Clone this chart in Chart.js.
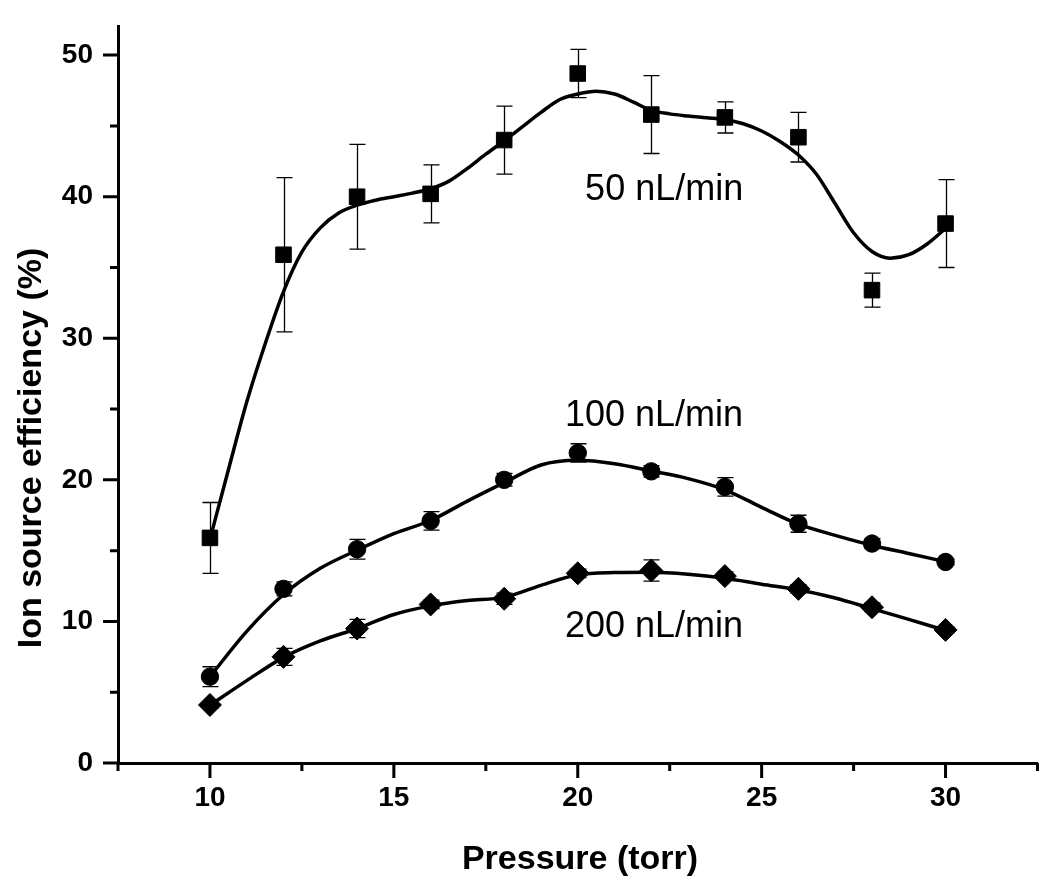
<!DOCTYPE html>
<html>
<head>
<meta charset="utf-8">
<title>Ion source efficiency vs pressure</title>
<script src="https://cdn.jsdelivr.net/npm/chart.js@4.4.1/dist/chart.umd.min.js"></script>
<style>
  html, body { margin: 0; padding: 0; background: #fff; }
  canvas { display: block; }
</style>
</head>
<body>
<canvas id="chart" width="1050" height="882"></canvas>
<script>
// measured points: pressure (torr) and ion source efficiency (%)
const pressure = [10, 12, 14, 16, 18, 20, 22, 24, 26, 28, 30];
const eff50 = [15.9, 35.9, 40.0, 40.2, 44.0, 48.7, 45.8, 45.6, 44.2, 33.4, 38.1];
const err50 = [2.5, 5.45, 3.7, 2.05, 2.4, 1.7, 2.75, 1.1, 1.75, 1.2, 3.1];
const eff100 = [6.1, 12.3, 15.1, 17.1, 20.0, 21.9, 20.6, 19.5, 16.9, 15.5, 14.2];
const err100 = [0.7, 0.5, 0.7, 0.65, 0.45, 0.65, 0.4, 0.65, 0.6, 0.35, 0.2];
const eff200 = [4.1, 7.5, 9.5, 11.2, 11.6, 13.4, 13.6, 13.2, 12.3, 11.0, 9.4];
const err200 = [0.2, 0.6, 0.65, 0.3, 0.4, 0.3, 0.75, 0.3, 0.3, 0.3, 0.2];

// fitted curves
const fit50X = [10, 10.5, 11, 11.5, 12, 12.5, 13, 13.5, 14, 14.5, 15, 15.5, 16, 16.5, 17, 17.5,
  18, 18.5, 19, 19.5, 20, 20.5, 21, 21.5, 22, 22.5, 23, 23.5, 24, 24.5, 25, 25.5, 26, 26.5,
  27, 27.5, 28, 28.5, 29, 29.5, 30];
const fit50 = [15.8, 20.7, 25.5, 29.6, 33.3, 36.1, 37.8, 38.85, 39.4, 39.75, 40.0, 40.25, 40.56, 41.1, 42.0, 43.0,
  43.95, 44.95, 45.95, 46.85, 47.25, 47.45, 47.25, 46.7, 46.1, 45.85, 45.7, 45.58, 45.45, 45.15, 44.64, 43.9, 42.94, 41.55,
  39.5, 37.45, 36.13, 35.66, 35.9, 36.66, 37.76];
const fitX = [10, 11, 12, 13, 14, 15, 16, 17, 18, 19, 20, 21, 22, 23, 24, 25, 26, 27, 28, 29, 30];
const fit100 = [6.1, 9.3, 11.9, 13.75, 15.03, 16.2, 17.13, 18.5, 19.8, 21.05, 21.38, 21.14, 20.63, 20.09, 19.3,
  18.06, 16.87, 16.08, 15.38, 14.8, 14.22];
const fit200 = [4.08, 5.82, 7.46, 8.62, 9.5, 10.49, 11.1, 11.47, 11.7, 12.55, 13.3, 13.45, 13.47, 13.33, 13.05,
  12.63, 12.24, 11.65, 10.9, 10.14, 9.37];

const xMajorTicks = [10, 15, 20, 25, 30];
const xMinorTicks = [7.5, 12.5, 17.5, 22.5, 27.5, 32.5];
const yMajorTicks = [0, 10, 20, 30, 40, 50];
const yMinorTicks = [5, 15, 25, 35, 45];

const seriesNames = ["50 nL/min", "100 nL/min", "200 nL/min"];
const xTitle = "Pressure (torr)";
const yTitle = "Ion source efficiency (%)";

// where the series names sit, in data units (left edge, baseline)
const namePos = [{ x: 20.2, y: 39.8 }, { x: 19.65, y: 23.8 }, { x: 19.65, y: 8.9 }];

const FONT = "'Liberation Sans', Arial, Helvetica, sans-serif";

function toPoints(xs, ys) {
  return xs.map((x, i) => ({ x: x, y: ys[i] }));
}

// error bars with caps
const errorBars = {
  id: "errorBars",
  beforeDatasetsDraw(chart) {
    const ctx = chart.ctx;
    const xs = chart.scales.x;
    const ys = chart.scales.y;
    ctx.save();
    ctx.strokeStyle = "#000";
    ctx.lineWidth = 1.3;
    [[eff50, err50], [eff100, err100], [eff200, err200]].forEach(([vals, errs]) => {
      vals.forEach((v, i) => {
        const px = Math.round(xs.getPixelForValue(pressure[i])) + 0.5;
        const top = ys.getPixelForValue(v + errs[i]);
        const bot = ys.getPixelForValue(v - errs[i]);
        ctx.beginPath();
        ctx.moveTo(px, top);
        ctx.lineTo(px, bot);
        ctx.moveTo(px - 8, top);
        ctx.lineTo(px + 8, top);
        ctx.moveTo(px - 8, bot);
        ctx.lineTo(px + 8, bot);
        ctx.stroke();
      });
    });
    ctx.restore();
  }
};

// outward major/minor ticks, axis titles and series names
const decorations = {
  id: "decorations",
  afterDraw(chart) {
    const ctx = chart.ctx;
    const xs = chart.scales.x;
    const ys = chart.scales.y;
    const area = chart.chartArea;
    ctx.save();
    ctx.strokeStyle = "#000";
    ctx.lineWidth = 3;
    ctx.beginPath();
    xMajorTicks.forEach((v) => {
      const px = xs.getPixelForValue(v);
      ctx.moveTo(px, area.bottom);
      ctx.lineTo(px, area.bottom + 15);
    });
    xMinorTicks.forEach((v) => {
      const px = xs.getPixelForValue(v);
      ctx.moveTo(px, area.bottom);
      ctx.lineTo(px, area.bottom + 8);
    });
    yMajorTicks.forEach((v) => {
      const py = ys.getPixelForValue(v);
      ctx.moveTo(area.left, py);
      ctx.lineTo(area.left - 15, py);
    });
    yMinorTicks.forEach((v) => {
      const py = ys.getPixelForValue(v);
      ctx.moveTo(area.left, py);
      ctx.lineTo(area.left - 8, py);
    });
    ctx.stroke();

    ctx.fillStyle = "#000";
    ctx.textAlign = "center";
    ctx.textBaseline = "alphabetic";
    ctx.font = "bold 34px " + FONT;
    ctx.fillText(xTitle, 580, 869);

    ctx.save();
    ctx.translate(41, 448);
    ctx.rotate(-Math.PI / 2);
    ctx.font = "bold 34px " + FONT;
    ctx.fillText(yTitle, 0, 0);
    ctx.restore();

    ctx.textAlign = "left";
    ctx.font = "36px " + FONT;
    seriesNames.forEach((name, i) => {
      ctx.fillText(name, xs.getPixelForValue(namePos[i].x), ys.getPixelForValue(namePos[i].y));
    });
    ctx.restore();
  }
};

function curve(xs, ys) {
  return {
    type: "line",
    data: toPoints(xs, ys),
    borderColor: "#000",
    borderWidth: 3.5,
    pointRadius: 0,
    cubicInterpolationMode: "monotone",
    fill: false
  };
}

function markers(ys, style, radius) {
  return {
    type: "scatter",
    data: toPoints(pressure, ys),
    pointStyle: style,
    pointRadius: radius,
    backgroundColor: "#000",
    borderColor: "#000",
    borderWidth: 1,
    showLine: false
  };
}

const tickFont = { family: FONT, size: 28, weight: "bold" };

new Chart(document.getElementById("chart"), {
  type: "scatter",
  data: {
    datasets: [
      markers(eff50, "rect", 11),
      markers(eff100, "circle", 8.7),
      markers(eff200, "rectRot", 11.5),
      curve(fit50X, fit50),
      curve(fitX, fit100),
      curve(fitX, fit200)
    ]
  },
  options: {
    responsive: false,
    animation: false,
    devicePixelRatio: 1,
    layout: { padding: { top: 18, right: 9, left: 0, bottom: 0 } },
    plugins: { legend: { display: false }, tooltip: { enabled: false } },
    scales: {
      x: {
        type: "linear",
        min: 7.5,
        max: 32.5,
        afterFit: (s) => { s.height = 119; },
        afterBuildTicks: (s) => { s.ticks = xMajorTicks.map((v) => ({ value: v })); },
        grid: { drawOnChartArea: false, tickLength: 15, tickColor: "rgba(0,0,0,0)" },
        border: { color: "#000", width: 3 },
        ticks: { font: tickFont, color: "#000", padding: 3, maxRotation: 0 }
      },
      y: {
        type: "linear",
        min: 0,
        max: 52,
        afterFit: (s) => { s.width = 118; },
        afterBuildTicks: (s) => { s.ticks = yMajorTicks.map((v) => ({ value: v })); },
        grid: { drawOnChartArea: false, tickLength: 15, tickColor: "rgba(0,0,0,0)" },
        border: { color: "#000", width: 3 },
        ticks: { font: tickFont, color: "#000", padding: 10 }
      }
    }
  },
  plugins: [errorBars, decorations]
});
</script>
</body>
</html>
